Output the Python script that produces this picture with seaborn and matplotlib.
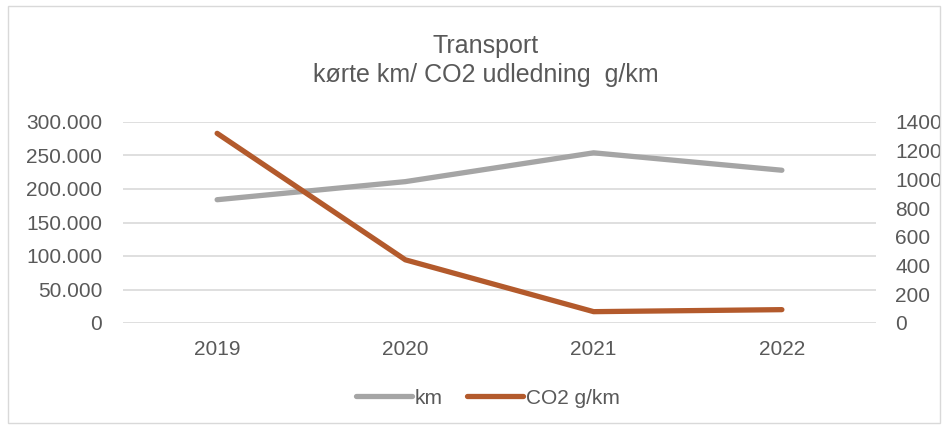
import matplotlib
matplotlib.use("Agg")
import matplotlib.pyplot as plt
import seaborn as sns
import pandas as pd
from matplotlib.lines import Line2D
from matplotlib.patches import Rectangle

years = ["2019", "2020", "2021", "2022"]
km = [184000, 211000, 254000, 228000]
co2 = [1321, 440, 79, 93]
left_ticks = [0, 50000, 100000, 150000, 200000, 250000, 300000]
right_ticks = [0, 200, 400, 600, 800, 1000, 1200, 1400]

sns.set_theme(style="white")
plt.rcParams['font.family'] = ['Liberation Sans', 'DejaVu Sans']

GRAY = "#A5A5A5"
ORANGE = "#B35A2C"
TXT = "#595959"
FS = 15

df = pd.DataFrame({"year": years, "km": km, "co2": co2})

fig = plt.figure(figsize=(9.47, 4.28), dpi=100)
fig.patches.append(Rectangle((0.008, 0.012), 0.985, 0.975, transform=fig.transFigure,
                             fill=False, edgecolor="#D9D9D9", linewidth=1))
ax = fig.add_axes([123/947, 1-323/428, (876-123)/947, (323-122)/428])
ax2 = ax.twinx()

sns.lineplot(data=df, x="year", y="km", ax=ax, color=GRAY, linewidth=3.8, sort=False)
sns.lineplot(data=df, x="year", y="co2", ax=ax2, color=ORANGE, linewidth=3.8, sort=False)

ax.set_xlim(-0.5, 3.5)
ax.set_ylim(0, 300000)
ax2.set_ylim(0, 1400)
ax.set_yticks(left_ticks)
ax.set_yticklabels([f"{v:,}".replace(",", ".") for v in left_ticks])
ax2.set_yticks(right_ticks)
ax2.set_yticklabels([str(v) for v in right_ticks])
ax.yaxis.grid(True, color="#D9D9D9", linewidth=1.2)
ax.set_axisbelow(True)
for a in (ax, ax2):
    for s in a.spines.values():
        s.set_visible(False)
    a.set_xlabel("")
    a.set_ylabel("")
    a.tick_params(axis="both", length=0, labelsize=FS, labelcolor=TXT)
ax.tick_params(axis="y", pad=15)
ax2.tick_params(axis="y", pad=14)
ax.tick_params(axis="x", pad=12)

fig.text(486/947, 1-46/428, "Transport", ha="center", va="center", fontsize=18, color=TXT)
fig.text(486/947, 1-75/428, "kørte km/ CO2 udledning  g/km", ha="center", va="center", fontsize=18, color=TXT)

handles = [Line2D([], [], color=GRAY, linewidth=3.8), Line2D([], [], color=ORANGE, linewidth=3.8)]
fig.legend(handles, ["km", "CO2 g/km"], loc="center", bbox_to_anchor=(488/947, 1-398/428),
           ncol=2, frameon=False, fontsize=FS, labelcolor=TXT, handlelength=2.7,
           handletextpad=0.15, columnspacing=1.15)

fig.savefig("out.png", dpi=100, facecolor="white")
